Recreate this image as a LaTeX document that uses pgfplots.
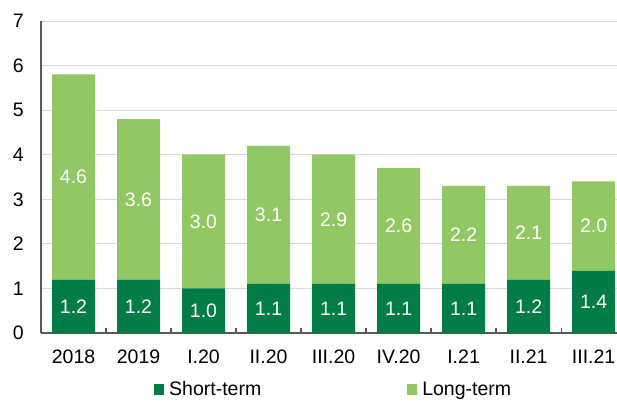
\documentclass[border=0pt]{standalone}
\usepackage{fontspec}
\setmainfont{Liberation Sans}
\usepackage{pgfplots}
\pgfplotsset{compat=1.18}

\definecolor{dkgreen}{RGB}{0,125,69}
\definecolor{ltgreen}{RGB}{146,200,99}
\definecolor{axgray}{RGB}{89,89,89}
\definecolor{gridgray}{RGB}{217,217,217}

\newcommand{\chartfont}{\fontsize{19.5}{22}\selectfont}

\begin{document}
\begin{tikzpicture}
\useasboundingbox (-41pt,-67pt) rectangle (576pt,333pt);
\begin{axis}[
    at={(0pt,0pt)}, anchor=south west,
    scale only axis, width=576pt, height=312pt,
    ybar stacked, bar width=43pt,
    xmin=-0.5, xmax=8.36, ymin=0, ymax=7,
    axis lines*=left,
    axis line style={axgray, line width=1.5pt},
    xtick={0,...,8},
    xticklabels={2018,2019,I.20,II.20,III.20,IV.20,I.21,II.21,III.21},
    minor xtick={0.5,1.5,...,7.5},
    ytick={0,...,7},
    major tick length=0pt, minor tick length=5pt,
    tick align=inside,
    minor tick style={axgray, line width=1.2pt},
    ymajorgrids, major grid style={gridgray, line width=1pt},
    /pgf/number format/assume math mode=true,
    tick label style={font=\chartfont, text=black},
    yticklabel style={anchor=east, inner sep=0pt, xshift=-17pt},
    xticklabel style={anchor=north, inner sep=0pt, yshift=-17pt},
    point meta=rawy,
    nodes near coords={\pgfmathprintnumber[fixed,fixed zerofill,precision=1]{\pgfplotspointmeta}},
    nodes near coords style={font=\chartfont, text=white, anchor=center},
    legend columns=2,
    legend style={at={(0.1962,-0.18)}, anchor=west, draw=none, fill=none,
        inner sep=0pt, font=\chartfont, nodes={inner sep=0pt},
        /tikz/every odd column/.append style={column sep=5pt},
        /tikz/every even column/.append style={column sep=146pt}},
]

% Short-term
\addplot[fill=dkgreen, draw=none,
    legend image code/.code={\fill[dkgreen] (0pt,-5.5pt) rectangle (10pt,5.5pt);}]
coordinates {
    (0,1.2) (1,1.2) (2,1.0) (3,1.1) (4,1.1) (5,1.1) (6,1.1) (7,1.2) (8,1.4)
};
\addlegendentry{Short-term}

% Long-term
\addplot[fill=ltgreen, draw=none,
    legend image code/.code={\fill[ltgreen] (0pt,-5.5pt) rectangle (10pt,5.5pt);}]
coordinates {
    (0,4.6) (1,3.6) (2,3.0) (3,3.1) (4,2.9) (5,2.6) (6,2.2) (7,2.1) (8,2.0)
};
\addlegendentry{Long-term}

\end{axis}
\end{tikzpicture}
\end{document}
